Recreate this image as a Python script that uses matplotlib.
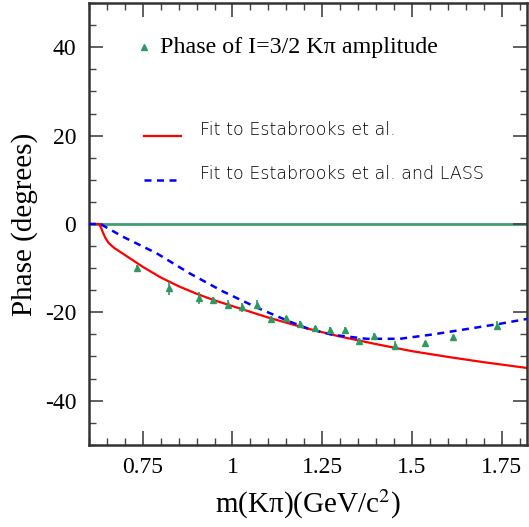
from matplotlib import pyplot as plt
from matplotlib.ticker import MultipleLocator
import numpy as np

plt.rcParams['mathtext.fontset'] = 'stix'
plt.rcParams['axes.unicode_minus'] = False

# I=3/2 K-pi phase measurements
mass = [0.734, 0.823, 0.906, 0.946, 0.987, 1.027, 1.068, 1.108, 1.150, 1.189,
        1.229, 1.271, 1.313, 1.352, 1.393, 1.454, 1.536, 1.614, 1.737]
phase = [-10.0, -14.6, -16.8, -17.2, -18.3, -18.9, -18.3, -21.5, -21.4, -22.6,
         -23.6, -24.0, -23.9, -26.4, -25.3, -27.6, -27.0, -25.7, -23.0]
phase_err = [0.6, 1.5, 1.3, 0.6, 1.0, 1.0, 1.0, 0.6, 0.6, 0.6,
             0.6, 0.6, 0.6, 0.6, 0.6, 1.0, 0.6, 0.6, 1.0]

# fit to Estabrooks et al.
fit1_m = [0.60, 0.628, 0.634, 0.638, 0.645, 0.655, 0.67, 0.70, 0.75, 0.80, 0.85,
          0.90, 0.95, 1.00, 1.05, 1.10, 1.20, 1.30, 1.40, 1.50, 1.60, 1.70, 1.82]
fit1_phase = [0.0, 0.0, -0.8, -1.7, -3.0, -4.3, -5.4, -7.0, -9.7, -12.1, -14.1,
              -15.8, -17.3, -18.6, -19.9, -21.2, -23.5, -25.5, -27.2, -28.8,
              -30.1, -31.3, -32.6]

# fit to Estabrooks et al. and LASS
fit2_m = [0.60, 0.632, 0.695, 0.788, 0.881, 0.974, 1.067, 1.159, 1.214, 1.279,
          1.373, 1.466, 1.559, 1.652, 1.745, 1.82]
fit2_phase = [0.0, 0.0, -2.9, -6.6, -11.2, -15.3, -18.9, -22.1, -23.8, -25.1,
              -26.0, -26.0, -25.0, -23.8, -22.6, -21.5]

green = '#2e9a62'
serif = ['Liberation Serif', 'DejaVu Serif']
sans = ['DejaVu Sans']

fig = plt.figure(figsize=(5.29, 5.27), dpi=100)
ax = fig.add_axes([0.168, 0.156, 0.828, 0.838])

ax.axhline(0, color='#3f9f70', lw=2, zorder=1)
ax.plot(fit1_m, fit1_phase, color='red', lw=1.6, zorder=2)
ax.plot(fit2_m, fit2_phase, color='blue', lw=1.8, ls=(0, (2.8, 2.2)), zorder=3)
ax.errorbar(mass, phase, yerr=phase_err, fmt='^', color=green, ms=5,
            elinewidth=1.2, capsize=0, zorder=4)

# legend entries
ax.plot([0.1256], [0.9005], '^', color=green, ms=5, transform=ax.transAxes)
ax.text(0.162, 0.9005, 'Phase of I=3/2 K\u03c0 amplitude', transform=ax.transAxes,
        va='center', ha='left', fontsize=17.3, family=serif)
ax.plot([0.1256, 0.21], [0.699, 0.699], color='red', lw=1.6, transform=ax.transAxes)
ax.text(0.253, 0.713, 'Fit to Estabrooks et al.', transform=ax.transAxes,
        va='center', ha='left', fontsize=12.6, family=sans, weight='light')
ax.plot([0.1256, 0.21], [0.6, 0.6], color='blue', lw=1.8, ls=(0, (2.8, 2.2)),
        transform=ax.transAxes)
ax.text(0.253, 0.613, 'Fit to Estabrooks et al. and LASS', transform=ax.transAxes,
        va='center', ha='left', fontsize=12.6, family=sans, weight='light')

ax.set_xlim(0.6, 1.82)
ax.set_ylim(-50, 50)
ax.xaxis.set_minor_locator(MultipleLocator(0.05))
ax.yaxis.set_major_locator(MultipleLocator(20))
ax.yaxis.set_minor_locator(MultipleLocator(5))
ax.set_xticks([0.75, 1.0, 1.25, 1.5, 1.75])
ax.set_xticklabels(['0.75', '1', '1.25', '1.5', '1.75'])
ax.tick_params(which='both', direction='in', top=True, right=True, color='#444444')
ax.tick_params(which='major', length=10, width=1.2, labelsize=17, pad=9)
ax.tick_params(which='minor', length=5, width=1.0)
for lab in ax.get_xticklabels() + ax.get_yticklabels():
    lab.set_family(serif)
for s in ax.spines.values():
    s.set_linewidth(1.8)
    s.set_color('#333333')

ax.set_xlabel('m(K\u03c0)(GeV/c$^2$)', fontsize=21, family=serif)
ax.set_ylabel('Phase (degrees)', fontsize=21, family=serif)
ax.xaxis.set_label_coords(0.5, -0.097)
ax.yaxis.set_label_coords(-0.146, 0.5)
ax.xaxis.label.set_va('top')
ax.yaxis.label.set_va('center')

fig.savefig('out.png', dpi=100)
